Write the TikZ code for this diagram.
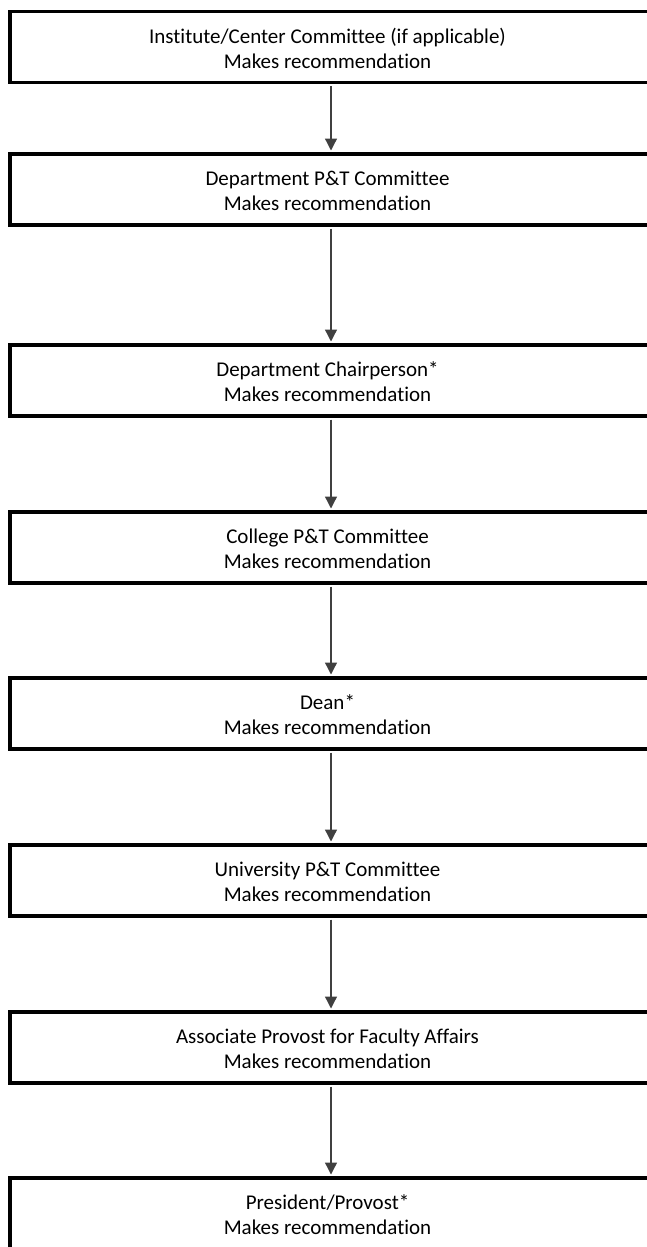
\documentclass[tikz,border=0pt]{standalone}
\usepackage{fontspec}
\setmainfont{Carlito}[Ligatures={NoCommon}]
\usetikzlibrary{arrows.meta}
\tikzset{
  stagebox/.style={draw=black, line width=3.5pt, fill=white, minimum width=642pt, minimum height=71pt,
    inner sep=0pt},
  stagetext/.style={inner sep=0pt, align=center, xshift=-3.5pt, yshift=-1pt,
    font=\fontsize{21pt}{25pt}\selectfont},
  flowarrow/.style={draw={rgb,255:red,64;green,64;blue,64}, line width=1.3pt,
    -{Triangle[width=12pt,length=12pt]}, shorten <=1.75pt, shorten >=1.75pt}
}
\begin{document}
\begin{tikzpicture}[x=1pt,y=1pt]
\useasboundingbox (0,0) rectangle (646,-1247);
\node[stagebox, label={[stagetext]center:{Institute/Center Committee (if applicable)\\Makes recommendation}}] (b1) at (331,-47) {};
\node[stagebox, label={[stagetext]center:{Department P\&T Committee\\Makes recommendation}}] (b2) at (331,-189.5) {};
\node[stagebox, label={[stagetext]center:{Department Chairperson*\\Makes recommendation}}] (b3) at (331,-380.5) {};
\node[stagebox, label={[stagetext]center:{College P\&T Committee\\Makes recommendation}}] (b4) at (331,-547.5) {};
\node[stagebox, label={[stagetext]center:{Dean*\\Makes recommendation}}] (b5) at (331,-713.5) {};
\node[stagebox, label={[stagetext]center:{University P\&T Committee\\Makes recommendation}}] (b6) at (331,-880.5) {};
\node[stagebox, label={[stagetext]center:{Associate Provost for Faculty Affairs\\Makes recommendation}}] (b7) at (331,-1047.5) {};
\node[stagebox, label={[stagetext]center:{President/Provost*\\Makes recommendation}}] (b8) at (331,-1213.5) {};
\draw[flowarrow] (b1.south) -- (b2.north);
\draw[flowarrow] (b2.south) -- (b3.north);
\draw[flowarrow] (b3.south) -- (b4.north);
\draw[flowarrow] (b4.south) -- (b5.north);
\draw[flowarrow] (b5.south) -- (b6.north);
\draw[flowarrow] (b6.south) -- (b7.north);
\draw[flowarrow] (b7.south) -- (b8.north);
\end{tikzpicture}
\end{document}
